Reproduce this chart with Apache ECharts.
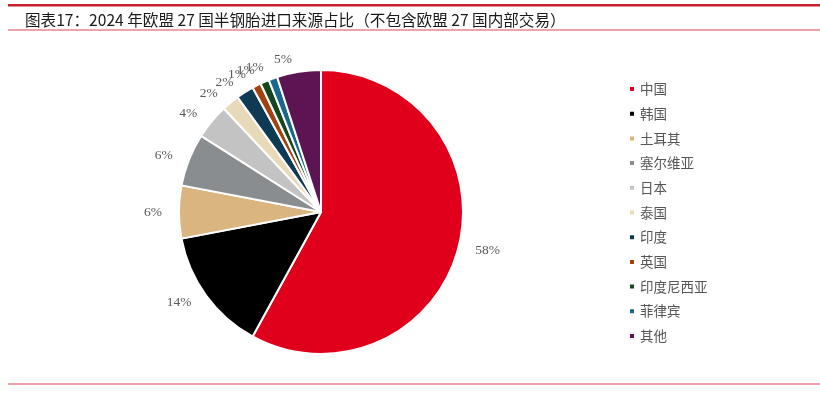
<!DOCTYPE html>
<html>
<head>
<meta charset="utf-8">
<script src="https://cdn.jsdelivr.net/npm/echarts@6/dist/echarts.min.js"></script>
<style>html,body{margin:0;padding:0;background:#fff;}#c{width:820px;height:394px;}</style>
</head>
<body>
<div id="c"></div>
<script>
var categories = ['中国','韩国','土耳其','塞尔维亚','日本','泰国','印度','英国','印度尼西亚','菲律宾','其他'];
var values = [58, 14, 6, 6, 4, 2, 2, 1, 1, 1, 5];
var colors = ['#e0001b','#000000','#dbb57f','#8a8d90','#c3c3c3','#e8d9b8','#0f3a54','#a4420f','#14471f','#17688a','#5c1552'];
var titleText = '图表17：2024 年欧盟 27 国半钢胎进口来源占比（不包含欧盟 27 国内部交易）';

var chart = echarts.init(document.getElementById('c'), null, {renderer:'canvas'});
var data = categories.map(function(n,i){return {name:n, value:values[i], itemStyle:{color:colors[i]}};});
chart.setOption({
  animation:false,
  backgroundColor:'#fff',
  title:{text:titleText, left:20, top:7, textStyle:{fontFamily:'Noto Sans CJK SC', fontSize:15.6, fontWeight:'normal', color:'#1a1a1a'}},
  graphic:[
    {type:'rect', shape:{x:8,y:4,width:812,height:2.5}, style:{fill:'#c9212b'}},
    {type:'rect', shape:{x:8,y:29,width:812,height:2}, style:{fill:'#eea3aa'}},
    {type:'rect', shape:{x:8,y:383,width:812,height:2}, style:{fill:'#eea3aa'}}
  ],
  legend:{
    orient:'vertical', left:623, top:77,
    icon:'rect', itemWidth:6, itemHeight:6, itemGap:10.7,
    textStyle:{fontFamily:'Noto Sans CJK SC', fontSize:13.5, color:'#555', lineHeight:14},
    data:categories
  },
  series:[{
    type:'pie',
    center:[321,212], radius:[0,142],
    startAngle:90, clockwise:true,
    avoidLabelOverlap:false,
    labelLayout:{hideOverlap:false},
    itemStyle:{borderColor:'#fff', borderWidth:2},
    label:{show:true, position:'outside', formatter:'{d}%', fontFamily:'Liberation Serif', fontSize:13.5, color:'#595959'},
    labelLine:{show:false, length:12, length2:0},
    data:data
  }]
});
</script>
</body>
</html>
